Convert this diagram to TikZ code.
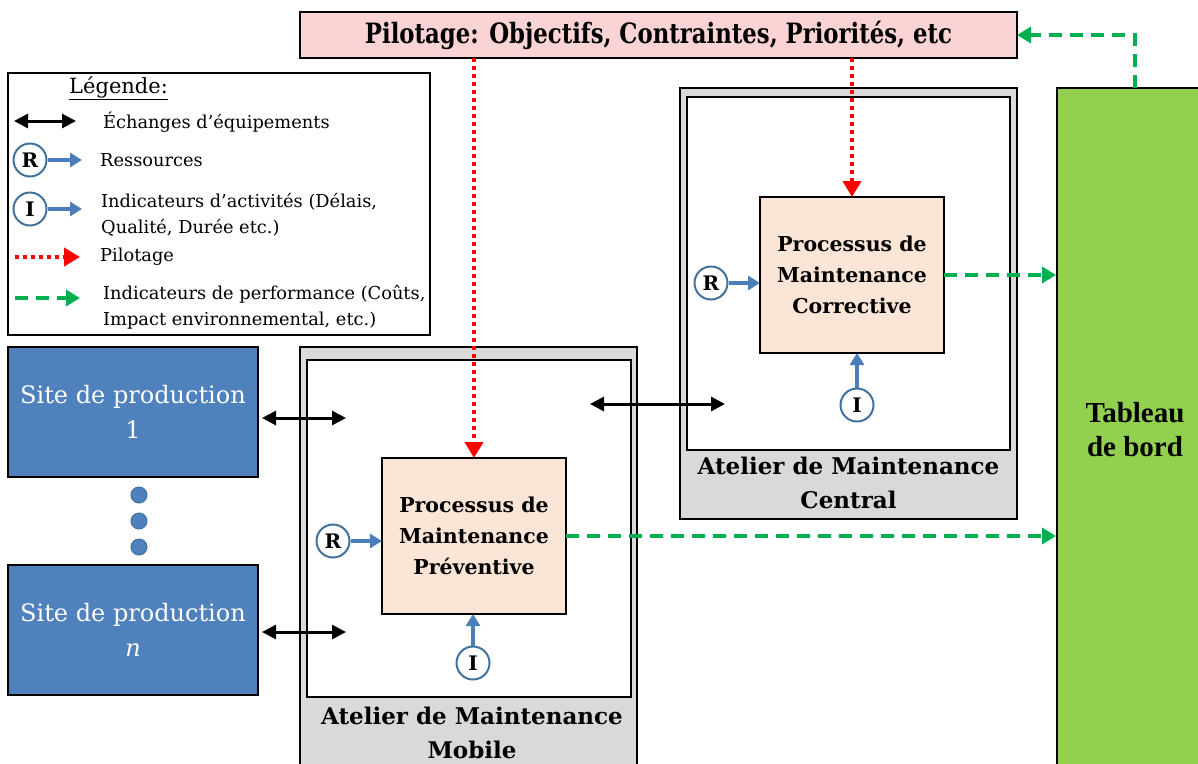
\documentclass[tikz,border=0pt]{standalone}
\usepackage{fontspec}
\usepackage{graphicx}
\setmainfont{DejaVu Serif}
\newfontfamily\timesfont{Liberation Serif}
\usetikzlibrary{arrows.meta}
\definecolor{pinkbox}{HTML}{FAD4D4}
\definecolor{peach}{HTML}{FBE5D6}
\definecolor{grayfill}{HTML}{D9D9D9}
\definecolor{siteblue}{HTML}{4F81BD}
\definecolor{tabgreen}{HTML}{92D050}
\definecolor{arrblue}{HTML}{4A7EBB}
\definecolor{circblue}{HTML}{41719C}
\definecolor{dashgreen}{HTML}{00B050}
\newcommand\fsz[2]{\fontsize{#1}{#2}\selectfont}
\begin{document}
\begin{tikzpicture}[x=1pt,y=-1pt,
  box/.style={draw=black, line width=2.5pt, inner sep=0pt, outer sep=0pt},
  proc/.style={box, fill=peach, minimum width=184pt, minimum height=156pt, align=center, font=\fsz{20.5}{31}\bfseries},
  site/.style={draw=black, line width=2pt, fill=siteblue, minimum width=250pt, minimum height=130pt, align=center, text=white, font=\fsz{24}{35}},
  circ/.style={circle, draw=circblue, line width=2pt, fill=white, minimum size=33pt, inner sep=0pt, font=\fsz{20}{22}\bfseries},
  dotc/.style={circle, draw=circblue, line width=1pt, fill=siteblue, minimum size=16pt, inner sep=0pt},
  xch/.style={line width=3pt, {Triangle[length=14pt,width=14pt]}-{Triangle[length=14pt,width=14pt]}},
  res/.style={draw=arrblue, line width=4pt, -{Triangle[length=12pt,width=14pt]}},
  pil/.style={draw=red, line width=4pt, dash pattern=on 4pt off 4pt, -{Triangle[length=16pt,width=18pt]}},
  perf/.style={draw=dashgreen, line width=4pt, dash pattern=on 13pt off 8pt, -{Triangle[length=14pt,width=16pt]}},
  legtxt/.style={anchor=west, align=left, inner sep=0pt, font=\fsz{17.8}{26}},
  lbl/.style={align=center, inner sep=0pt, font=\fsz{23}{34}\bfseries}
]
\useasboundingbox (0,0) rectangle (1198,763);

% Pilotage box
\node[box, fill=pinkbox, minimum width=717pt, minimum height=46pt] (pilot) at (658.5,35)
  {\fsz{28}{30}\resizebox{587pt}{\height}{\bfseries Pilotage: Objectifs, Contraintes, Priorités, etc}};

% Legend
\node[draw=black, line width=1.5pt, minimum width=422pt, minimum height=262pt, inner sep=0pt] (legend) at (219,204) {};
\node[legtxt, font=\fsz{21}{26}] (lt0) at (69,88) {\underline{Légende:}};
\coordinate (la1) at (14,121); \coordinate (la2) at (76,121);
\draw[xch] (la1) -- (la2);
\node[legtxt] (lt1) at (103,122) {Échanges d’équipements};
\node[circ] (lR) at (30,160) {R};
\coordinate (lRe) at (82,160);
\draw[res] (lR.east) -- (lRe);
\node[legtxt] (lt2) at (100,160) {Ressources};
\node[circ] (lI) at (30,209) {I};
\coordinate (lIe) at (82,209);
\draw[res] (lI.east) -- (lIe);
\node[legtxt] (lt3) at (101,215) {Indicateurs d’activités (Délais,\\Qualité, Durée etc.)};
\coordinate (lp1) at (15,257); \coordinate (lp2) at (80,257);
\draw[pil] (lp1) -- (lp2);
\node[legtxt] (lt4) at (100,257) {Pilotage};
\coordinate (lg1) at (15,298); \coordinate (lg2) at (80,298);
\draw[perf] (lg1) -- (lg2);
\node[legtxt] (lt5) at (103,307) {Indicateurs de performance (Coûts,\\Impact environnemental, etc.)};

% Production sites
\node[site] (site1) at (133,412) {Site de production\\1};
\node[site] (siten) at (133,630) {Site de production\\\textit{n}};
\node[dotc] (d1) at (139,495) {};
\node[dotc] (d2) at (139,521) {};
\node[dotc] (d3) at (139,547) {};

% Atelier mobile
\node[box, fill=grayfill, minimum width=337pt, minimum height=443pt] (mobOuter) at (468.5,568.5) {};
\node[box, fill=white, minimum width=324pt, minimum height=337pt] (mobInner) at (469,528.5) {};
\node[lbl] (mobLabel) at (472,733) {Atelier de Maintenance\\Mobile};
\node[proc] (prev) at (474,536) {Processus de\\Maintenance\\Préventive};
\node[circ] (rP) at (333,541) {R};
\node[circ] (iP) at (473,663) {I};
\draw[res] (rP.east) -- (prev.west |- rP);
\draw[res] (iP.north) -- (prev.south -| iP);

% Atelier central
\node[box, fill=grayfill, minimum width=337pt, minimum height=431pt] (cenOuter) at (848.5,303.5) {};
\node[box, fill=white, minimum width=323pt, minimum height=353pt] (cenInner) at (848.5,273.5) {};
\node[lbl] (cenLabel) at (848.5,483) {Atelier de Maintenance\\Central};
\node[proc] (corr) at (852,275) {Processus de\\Maintenance\\Corrective};
\node[circ] (rC) at (711,283) {R};
\node[circ] (iC) at (857,405) {I};
\draw[res] (rC.east) -- (corr.west |- rC);
\draw[res] (iC.north) -- (corr.south -| iC);

% Tableau de bord
\node[draw=black, line width=2pt, fill=tabgreen, minimum width=156pt, minimum height=712pt, inner sep=0pt] (tab) at (1135,444) {};
\node[align=center, inner sep=0pt, font=\timesfont\fsz{29}{34}\bfseries] (tabtxt) at (1135,430) {Tableau\\de bord};

% Equipment exchanges
\coordinate (e1) at (346,418);
\coordinate (e2) at (346,632);
\coordinate (c1) at (590,404);
\coordinate (c2) at (725,404);
\draw[xch] ([xshift=3pt]site1.east |- e1) -- (e1);
\draw[xch] ([xshift=3pt]siten.east |- e2) -- (e2);
\draw[xch] (c1) -- (c2);

% Pilotage arrows
\draw[pil] (pilot.south -| prev.north) -- (prev.north);
\draw[pil] (pilot.south -| corr.north) -- (corr.north);

% Performance arrows
\draw[perf] (corr.east) -- (tab.west |- corr.east);
\draw[perf] (prev.east) -- (tab.west |- prev.east);
\coordinate (tt) at (1135,88);
\draw[perf] (tt) |- (pilot.east);
\end{tikzpicture}
\end{document}
